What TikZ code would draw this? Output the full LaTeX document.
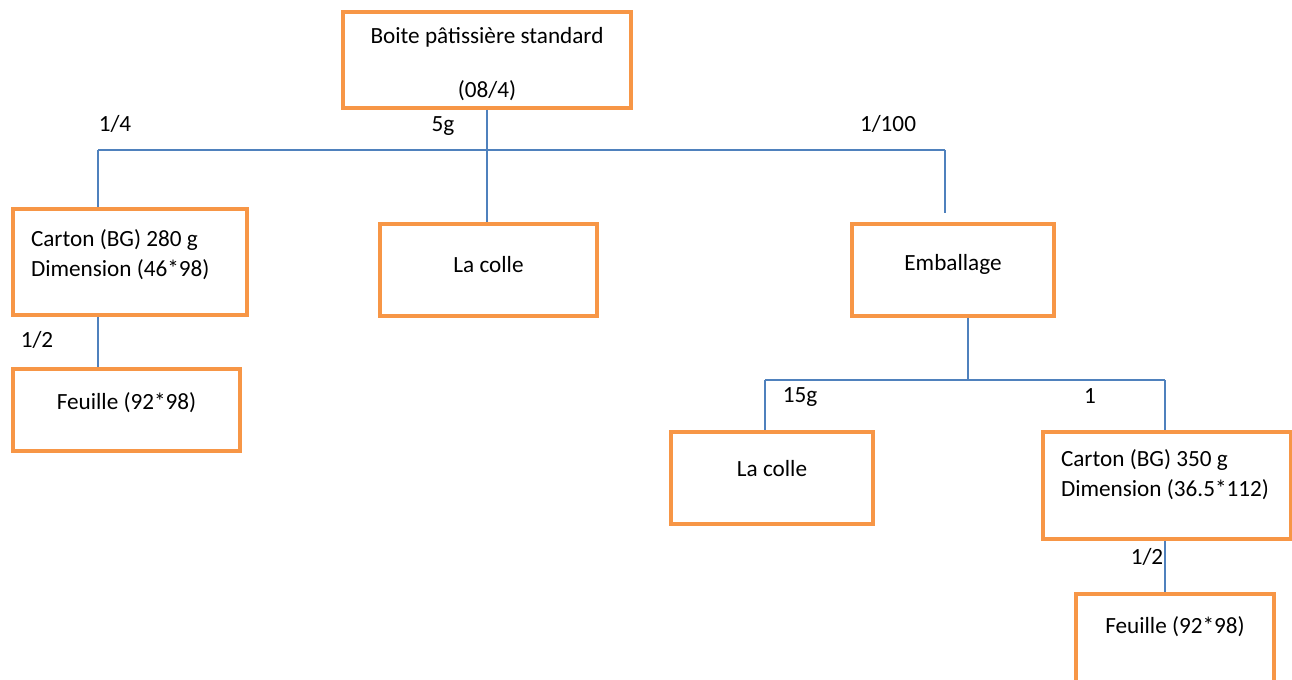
\documentclass[tikz,border=0pt]{standalone}
\usepackage{fontspec}
\setmainfont{Carlito}
\usetikzlibrary{positioning}
\definecolor{boxorange}{HTML}{F79646}
\definecolor{linkblue}{HTML}{4F81BD}
\tikzset{
  block/.style={rectangle, draw=boxorange, line width=1.8pt, align=center, inner sep=0pt, font=\fontsize{13.2}{17}\selectfont},
  leftblock/.style={block, align=flush left},
  link/.style={draw=linkblue, line width=0.9pt},
  qty/.style={inner sep=0pt, font=\fontsize{13.2}{17}\selectfont},
}

\begin{document}
\begin{tikzpicture}
  \clip (0,0) rectangle (25.84,-13.6);

  % Product
  \node[block, minimum width=5.76cm, minimum height=1.92cm, text height=1.63cm, text depth=0.12cm] (boite) at (9.74,-1.2) {Boite pâtissière standard\\[13.6pt](08/4)};

  % First level
  \node[leftblock, text width=3.96cm, minimum width=4.68cm, minimum height=2.12cm, text depth=0.95cm] (carton1) at (2.6,-5.24) {Carton (BG) 280 g\\Dimension (46*98)};
  \node[block, minimum width=4.34cm, minimum height=1.84cm, text depth=0.24cm] (colle1) at (9.77,-5.4) {La colle};
  \node[block, minimum width=4.04cm, minimum height=1.84cm, text depth=0.3cm] (emb) at (19.06,-5.4) {Emballage};

  % Second level
  \node[block, minimum width=4.54cm, minimum height=1.64cm, text depth=0.37cm] (feuille1) at (2.53,-8.2) {Feuille (92*98)};
  \node[block, minimum width=4.04cm, minimum height=1.84cm, text depth=0.4cm] (colle2) at (15.44,-9.56) {La colle};
  \node[leftblock, text width=4.24cm, minimum width=4.96cm, minimum height=2.14cm, text depth=1.1cm] (carton2) at (23.34,-9.71) {Carton (BG) 350 g\\Dimension (36.5*112)};
  \node[block, minimum width=3.96cm, minimum height=1.84cm, text depth=0.6cm] (feuille2) at (23.5,-12.8) {Feuille (92*98)};

  % Links below the product
  \coordinate (busA) at (1.96,-3.0);
  \coordinate (busB) at (18.9,-3.0);
  \draw[link] (boite.south) -- (boite.south |- busA);
  \draw[link] (busA) -- (busB);
  \draw[link] (busA) -- (busA |- carton1.north);
  \draw[link] (boite.south |- busA) -- (boite.south |- colle1.north);
  \draw[link, shorten >=0.18cm] (busB) -- (busB |- emb.north);
  \draw[link] (busA |- carton1.south) -- (busA |- feuille1.north);

  % Links below the packaging
  \coordinate (busE) at (19.36,-7.6);
  \coordinate (busC) at (15.3,-7.6);
  \coordinate (busD) at (23.3,-7.6);
  \draw[link] (busE |- emb.south) -- (busE);
  \draw[link] (busC) -- (busD);
  \draw[link] (busC) -- (busC |- colle2.north);
  \draw[link] (busD) -- (busD |- carton2.north);
  \draw[link] (busD |- carton2.south) -- (busD |- feuille2.north);

  % Quantities
  \node[qty] (q1) at (2.3,-2.48) {1/4};
  \node[qty] (q2) at (8.86,-2.52) {5g};
  \node[qty] (q3) at (17.76,-2.48) {1/100};
  \node[qty] (q4) at (0.74,-6.8) {1/2};
  \node[qty] (q5) at (16.0,-7.94) {15g};
  \node[qty] (q6) at (21.8,-7.92) {1};
  \node[qty] (q7) at (22.94,-11.14) {1/2};
\end{tikzpicture}
\end{document}
